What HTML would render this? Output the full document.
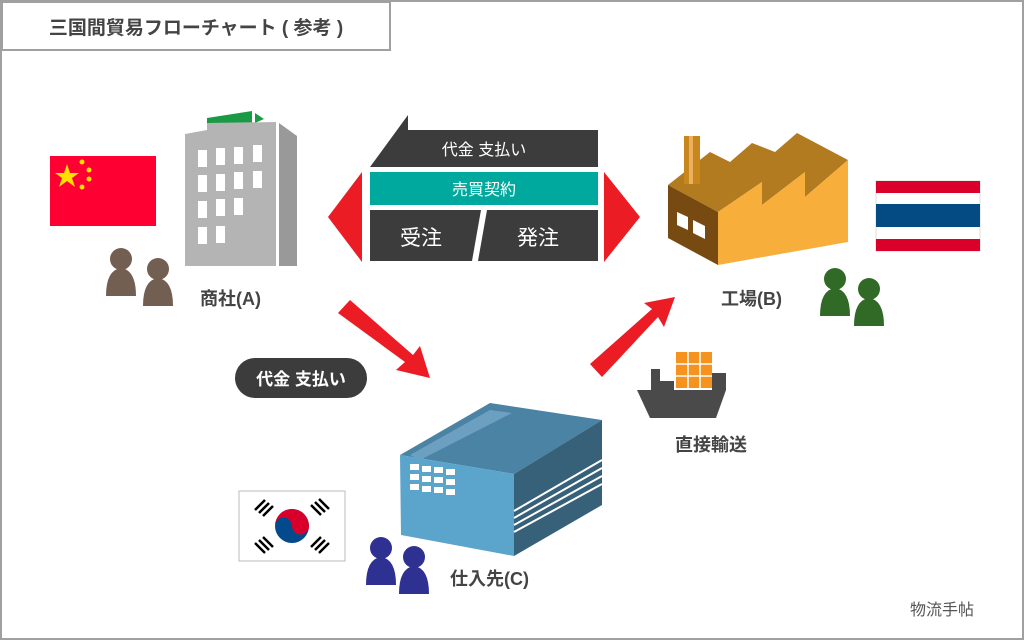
<!DOCTYPE html>
<html><head><meta charset="utf-8"><style>
html,body{margin:0;padding:0;background:#fff}
svg{display:block}
text{font-family:"Liberation Sans","Noto Sans CJK JP",sans-serif}
</style></head><body>
<svg width="1024" height="640" viewBox="0 0 1024 640" xmlns="http://www.w3.org/2000/svg">
<rect x="1" y="1" width="1022" height="638" fill="#fff" stroke="#a0a0a0" stroke-width="2"/>
<rect x="2" y="2" width="388" height="48" fill="#fff" stroke="#a0a0a0" stroke-width="2"/>
<text x="196" y="34" font-size="19" font-weight="bold" fill="#444" text-anchor="middle">三国間貿易フローチャート ( 参考 )</text>

<!-- China flag -->
<rect x="50" y="156" width="106" height="70" fill="#ff0033"/>
<polygon points="67,164 70,173 79,173 72,178 75,187 67,181 59,187 62,178 55,173 64,173" fill="#ffde00"/>
<circle cx="82" cy="162" r="2.5" fill="#ffde00"/><circle cx="89" cy="170" r="2.5" fill="#ffde00"/>
<circle cx="89" cy="179" r="2.5" fill="#ffde00"/><circle cx="82" cy="187" r="2.5" fill="#ffde00"/>

<!-- Building A -->
<polygon points="207,118 252,111 252,125 207,125" fill="#1a9a45"/>
<polygon points="255,113 264,119 255,123" fill="#1a9a45"/>
<polygon points="185,134 207,130 207,123 276,122 276,266 185,266" fill="#b4b4b4"/>
<polygon points="279,123 297,136 297,266 279,266" fill="#999"/>
<g fill="#fff">
<rect x="198" y="150" width="9" height="17"/><rect x="216" y="148" width="9" height="17"/><rect x="234" y="147" width="9" height="17"/><rect x="253" y="145" width="9" height="17"/>
<rect x="198" y="175" width="9" height="17"/><rect x="216" y="174" width="9" height="17"/><rect x="234" y="172" width="9" height="17"/><rect x="253" y="171" width="9" height="17"/>
<rect x="198" y="201" width="9" height="17"/><rect x="216" y="199" width="9" height="17"/><rect x="234" y="198" width="9" height="17"/>
<rect x="198" y="227" width="9" height="17"/><rect x="216" y="226" width="9" height="17"/>
</g>
<!-- People A -->
<g fill="#735f52">
<circle cx="121" cy="259" r="11"/><path d="M106,296 Q106,270 121,268 Q136,270 136,296 Z"/>
<circle cx="158" cy="269" r="11"/><path d="M143,306 Q143,280 158,278 Q173,280 173,306 Z"/>
</g>
<text x="200" y="305" font-size="18" font-weight="bold" fill="#444">商社(A)</text>

<!-- center contract block -->
<polygon points="408,115 408,130 598,130 598,167 370,167" fill="#3c3c3c"/>
<text x="484" y="155" font-size="16" fill="#fff" text-anchor="middle">代金 支払い</text>
<rect x="370" y="172" width="228" height="33" fill="#00a99d"/>
<text x="484" y="195" font-size="16" fill="#fff" text-anchor="middle">売買契約</text>
<polygon points="370,210 481,210 472,261 370,261" fill="#3c3c3c"/>
<polygon points="487,210 598,210 598,261 478,261" fill="#3c3c3c"/>
<text x="421" y="245" font-size="21" fill="#fff" text-anchor="middle">受注</text>
<text x="538" y="245" font-size="21" fill="#fff" text-anchor="middle">発注</text>
<polygon points="362,172 362,262 328,217" fill="#ec1c24"/>
<polygon points="604,172 604,262 640,217" fill="#ec1c24"/>

<!-- Factory -->
<polygon points="668,185 710,152 730,162 752,143 775,152 797,133 848,160 805,197 805,172 762,205 762,182 718,212" fill="#b27b1f"/>
<rect x="684" y="136" width="16" height="48" fill="#c8871c"/>
<rect x="689" y="136" width="4" height="48" fill="#eab060"/>
<polygon points="668,185 718,212 718,265 668,238" fill="#774a12"/>
<polygon points="718,212 762,182 762,205 805,172 805,197 848,160 848,242 718,265" fill="#f8ae3b"/>
<polygon points="677,212 688,217 688,230 677,225" fill="#fff"/>
<polygon points="693,220 705,226 705,239 693,233" fill="#fff"/>
<!-- Thai flag -->
<rect x="876" y="181" width="104" height="70" fill="#fff" stroke="#ddd"/>
<rect x="876" y="181" width="104" height="12" fill="#db002a"/>
<rect x="876" y="204" width="104" height="23" fill="#034b82"/>
<rect x="876" y="239" width="104" height="12" fill="#db002a"/>
<!-- People B -->
<g fill="#316a27">
<circle cx="835" cy="279" r="11"/><path d="M820,316 Q820,290 835,288 Q850,290 850,316 Z"/>
<circle cx="869" cy="289" r="11"/><path d="M854,326 Q854,300 869,298 Q884,300 884,326 Z"/>
</g>
<text x="721" y="305" font-size="18" font-weight="bold" fill="#444">工場(B)</text>

<!-- red arrows -->
<polygon points="338,313 350,300 413,355 420,346 430,378 396,370 405,362" fill="#ec1c24"/>
<polygon points="590,364 602,377 658,317 664,327 675,297 644,303 652,309" fill="#ec1c24"/>

<!-- pill -->
<rect x="235" y="358" width="132" height="40" rx="20" fill="#3c3c3c"/>
<text x="301" y="385" font-size="17" font-weight="bold" fill="#fff" text-anchor="middle">代金 支払い</text>

<!-- ship -->
<rect x="676" y="352" width="36" height="36" fill="#f6921e"/>
<g stroke="#fff" stroke-width="1.5">
<line x1="688" y1="352" x2="688" y2="388"/><line x1="700" y1="352" x2="700" y2="388"/>
<line x1="676" y1="364" x2="712" y2="364"/><line x1="676" y1="376" x2="712" y2="376"/>
</g>
<polygon points="651,390 651,369 660,369 660,381 674,381 674,390 712,390 712,373 726,373 726,390 716,418 650,418 637,390" fill="#4a4a4a"/>
<text x="675" y="451" font-size="18" font-weight="bold" fill="#444">直接輸送</text>

<!-- Warehouse C -->
<polygon points="400,455 490,403 602,420 514,474" fill="#4a83a4"/>
<polygon points="410,455 490,410 512,413 420,460" fill="#6da0c0"/>
<polygon points="400,455 514,474 514,556 401,535" fill="#5ba5cc"/>
<polygon points="514,474 602,420 602,505 514,556" fill="#376079"/>
<g stroke="#fff" stroke-width="2">
<line x1="514" y1="511" x2="602" y2="460"/><line x1="514" y1="518" x2="602" y2="468"/>
<line x1="514" y1="525" x2="602" y2="476"/><line x1="514" y1="532" x2="602" y2="484"/>
</g>
<g fill="#fff">
<rect x="410" y="464" width="9" height="6"/><rect x="422" y="466" width="9" height="6"/><rect x="434" y="467" width="9" height="6"/><rect x="446" y="469" width="9" height="6"/>
<rect x="410" y="474" width="9" height="6"/><rect x="422" y="476" width="9" height="6"/><rect x="434" y="477" width="9" height="6"/><rect x="446" y="479" width="9" height="6"/>
<rect x="410" y="484" width="9" height="6"/><rect x="422" y="486" width="9" height="6"/><rect x="434" y="487" width="9" height="6"/><rect x="446" y="489" width="9" height="6"/>
</g>
<!-- Korea flag -->
<rect x="239" y="491" width="106" height="70" fill="#fff" stroke="#bbb"/>
<circle cx="292" cy="526" r="17" fill="#034a8c"/>
<path d="M275,526 A17,17 0 0 1 309,526 A8.5,8.5 0 0 1 292,526 A8.5,8.5 0 0 0 275,526 Z" fill="#d8002a"/>
<g stroke="#000" stroke-width="2.5">
<line x1="255" y1="510" x2="265" y2="500"/><line x1="259" y1="513" x2="269" y2="503"/><line x1="263" y1="516" x2="273" y2="506"/>
<line x1="311" y1="505" x2="321" y2="515"/><line x1="315" y1="502" x2="325" y2="512"/><line x1="319" y1="499" x2="329" y2="509"/>
<line x1="255" y1="543" x2="265" y2="553"/><line x1="259" y1="540" x2="269" y2="550"/><line x1="263" y1="537" x2="273" y2="547"/>
<line x1="311" y1="547" x2="321" y2="537"/><line x1="315" y1="550" x2="325" y2="540"/><line x1="319" y1="553" x2="329" y2="543"/>
</g>
<!-- People C -->
<g fill="#2e3192">
<circle cx="381" cy="548" r="11"/><path d="M366,585 Q366,559 381,557 Q396,559 396,585 Z"/>
<circle cx="414" cy="557" r="11"/><path d="M399,594 Q399,568 414,566 Q429,568 429,594 Z"/>
</g>
<text x="450" y="585" font-size="18" font-weight="bold" fill="#444">仕入先(C)</text>

<text x="910" y="615" font-size="16" fill="#555">物流手帖</text>
</svg>
</body></html>
